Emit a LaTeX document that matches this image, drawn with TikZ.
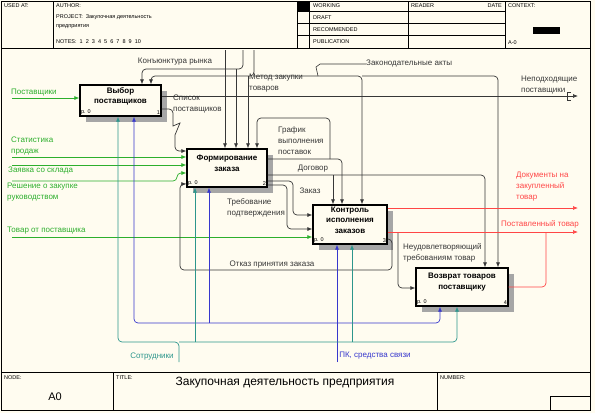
\documentclass[tikz,border=0pt]{standalone}
\usepackage{fontspec}
\setmainfont{Liberation Sans}
\usetikzlibrary{arrows.meta,shadows}
\definecolor{paper}{RGB}{255,252,240}
\definecolor{ink}{RGB}{55,55,55}
\definecolor{ingreen}{RGB}{45,175,45}
\definecolor{mechteal}{RGB}{45,150,140}
\definecolor{mechblue}{RGB}{55,55,205}
\definecolor{outred}{RGB}{255,70,70}

\begin{document}
\begin{tikzpicture}[x=1pt,y=-1pt,
    box/.style={draw,line width=1.3pt,fill=paper,inner sep=0pt,
      drop shadow={shadow xshift=6pt,shadow yshift=-6pt,fill=black!35,opacity=1}},
    ttl/.style={font=\bfseries\fontsize{8}{10.5}\selectfont,align=center,inner sep=0pt},
    pno/.style={font=\fontsize{5.5}{6}\selectfont,inner sep=1.5pt},
    lbl/.style={font=\fontsize{8}{11}\selectfont,align=left,inner sep=0pt},
    hd/.style={font=\fontsize{5.5}{6.5}\selectfont,inner sep=0pt,anchor=west},
    arr/.style={line width=0.7pt,rounded corners=4pt,-{Latex[length=5pt,width=4pt]}},
    seg/.style={line width=0.7pt,rounded corners=4pt}]

  \fill[paper] (0,0) rectangle (595,413);
  \useasboundingbox (0,0) rectangle (595,413);

  % frame, header and footer
  \draw[line width=0.8pt] (1,1) rectangle (590,410);
  \draw[line width=0.6pt] (1,48) -- (590,48) (53,1) -- (53,48)
    (297,1) -- (297,48) (309,1) -- (309,48) (408,1) -- (408,48) (505,1) -- (505,48)
    (297,11) -- (505,11) (297,23) -- (505,23) (297,35) -- (505,35);
  \fill (297,1) rectangle (309,11);
  \fill (533,27) rectangle (560,34);
  \draw[line width=0.6pt] (1,372) -- (590,372) (113,372) -- (113,410)
    (437,372) -- (437,410) (550,396) rectangle (590,410);

  \node[hd] (usedat) at (4,6) {USED AT:};
  \node[hd] (author) at (56,6) {AUTHOR:};
  \node[hd] (project) at (56,17) {PROJECT:\ \ Закупочная деятельность};
  \node[hd] (project2) at (56,27) {предприятия};
  \node[hd] (notes) at (56,42) {NOTES:\ \ 1\ \ 2\ \ 3\ \ 4\ \ 5\ \ 6\ \ 7\ \ 8\ \ 9\ \ 10};
  \node[hd] (working) at (313,6) {WORKING};
  \node[hd] (draft) at (313,18) {DRAFT};
  \node[hd] (recom) at (313,30) {RECOMMENDED};
  \node[hd] (public) at (313,42) {PUBLICATION};
  \node[hd] (reader) at (411,6) {READER};
  \node[hd,anchor=east] (date) at (502,6) {DATE};
  \node[hd] (context) at (508,6) {CONTEXT:};
  \node[hd] (ctxnode) at (508,43) {A-0};
  \node[hd] (nodelbl) at (4,378) {NODE:};
  \node[font=\fontsize{11}{12}\selectfont,inner sep=0pt] (nodeno) at (55,397) {A0};
  \node[hd] (titlelbl) at (116,378) {TITLE:};
  \node[font=\fontsize{12}{13}\selectfont,inner sep=0pt] (title) at (285,383) {Закупочная деятельность предприятия};
  \node[hd] (numlbl) at (440,378) {NUMBER:};

  % activity boxes
  \node[box,minimum width=81pt,minimum height=31pt] (b1) at (120.5,100.5) {};
  \node[box,minimum width=80pt,minimum height=38pt] (b2) at (227,168) {};
  \node[box,minimum width=74pt,minimum height=39pt] (b3) at (350,224.5) {};
  \node[box,minimum width=92pt,minimum height=38pt] (b4) at (462,287) {};
  \node[ttl] (t1) at ([yshift=4pt]b1.center) {Выбор\\поставщиков};
  \node[ttl] (t2) at ([yshift=4.5pt]b2.center) {Формирование\\заказа};
  \node[ttl] (t3) at ([yshift=4.5pt]b3.center) {Контроль\\исполнения\\заказов};
  \node[ttl] (t4) at ([yshift=5pt]b4.center) {Возврат товаров\\поставщику};
  \node[pno,anchor=south west] (p1) at (b1.south west) {р. 0};
  \node[pno,anchor=south east] (n1) at (b1.south east) {1};
  \node[pno,anchor=south west] (p2) at (b2.south west) {р. 0};
  \node[pno,anchor=south east] (n2) at (b2.south east) {2};
  \node[pno,anchor=south west] (p3) at (b3.south west) {р. 0};
  \node[pno,anchor=south east] (n3) at (b3.south east) {3};
  \node[pno,anchor=south west] (p4) at (b4.south west) {р. 0};
  \node[pno,anchor=south east] (n4) at (b4.south east) {4};

  % inputs
  \begin{scope}[ingreen]
    \coordinate (i1) at (12,98);
    \coordinate (i2) at (12,157);
    \coordinate (i3) at (12,165);
    \coordinate (i4) at (12,181);
    \coordinate (i5) at (12,237);
    \draw[arr] (i1) -- (i1 -| b1.west);
    \draw[arr] (i2) -- (i2 -| b2.west);
    \draw[arr] (i3) -- (i3 -| b2.west);
    \draw[arr] (i4) -| (177,173) -- (b2.west |- 0,173);
    \draw[arr] (i5) -- (i5 -| b3.west);
    \node[lbl,anchor=south west] (li1) at (11,96) {Поставщики};
    \node[lbl,anchor=south west] (li2) at (11,155) {Статистика\\продаж};
    \node[lbl,anchor=north west] (li3) at (8,167) {Заявка со склада};
    \node[lbl,anchor=north west] (li4) at (7,183) {Решение о закупке\\руководством};
    \node[lbl,anchor=south west] (li5) at (7,234) {Товар от поставщика};
  \end{scope}

  % controls and internal links
  \begin{scope}[ink]
    \coordinate (c1) at (243,50);
    \coordinate (c2) at (225,50);
    \coordinate (c3) at (254,50);
    \draw[arr] (c1) |- (142,69) -- (142,0 |- b1.north);
    \draw[arr] (236,69) -- (236,0 |- b2.north);
    \draw[arr] (c2) -- (c2 |- b2.north);
    \draw[arr] (c3) |- (151,76) -- (151,0 |- b1.north);
    \draw[arr] (248,76) -- (248,0 |- b2.north);
    \draw[arr] (254,76) -| (362,0 |- b3.north);
    \draw[arr] (362,76) -| (498,0 |- b4.north);
    \draw[arr] (b2.east |- 0,159) -| (342,0 |- b3.north);
    \draw[arr] (330,159) |- (257,118) -- (257,0 |- b2.north);
    \draw[arr] (b2.east |- 0,175) -| (485,0 |- b4.north);
    \draw[arr] (333,175) -- (333,0 |- b3.north);
    \draw[arr] (b2.east |- 0,181) -| (293,215) -- (b3.west |- 0,215);
    \draw[arr] (b2.east |- 0,185) -| (287,229) -- (b3.west |- 0,229);
    \draw[arr] (b3.east |- 0,239) -| (392,270) -| (180,184) -- (b2.west |- 0,184);
    \draw[arr] (b1.east |- 0,109) -- (173,109)
      {[sharp corners] -- (173,126) -- (180,123) -- (175,135)} -- (175,151) -- (b2.west |- 0,151);
    \coordinate (eNep) at (578,96);
    \draw[arr] (b1.east |- 0,96) -- (eNep);
    \draw[line width=0.6pt] (571,92) -| (567,100) -- (571,100);
    \draw[arr] (398,232) |- (b4.west |- 0,288);

    \node[lbl] (lc1) at (175,62) {Конъюнктура рынка};
    \node[lbl,anchor=north west] (lc2) at (249,74) {Метод закупки\\товаров};
    \node[lbl,anchor=west] (lc3) at (366,64) {Законодательные акты};
    \draw[line width=0.6pt] (lc3.west) -- (320,64) -- (316,67) -- (318,76);
    \node[lbl,anchor=north west] (lo1) at (173,95) {Список\\поставщиков};
    \node[lbl,anchor=south west] (lo2) at (521,94) {Неподходящие\\поставщики};
    \node[lbl,anchor=north west] (lo3) at (278,126) {График\\выполнения\\поставок};
    \node[lbl] (lo4) at (313,169) {Договор};
    \node[lbl] (lo5) at (310,191) {Заказ};
    \node[lbl,anchor=north west] (lo6) at (227,198) {Требование\\подтверждения};
    \node[lbl] (lo7) at (272,265) {Отказ принятия заказа};
    \node[lbl,anchor=north west] (lo8) at (403,243) {Неудовлетворяющий\\требованиям товар};
  \end{scope}

  % outputs
  \begin{scope}[outred]
    \coordinate (o1) at (578,208);
    \coordinate (o2) at (578,232);
    \draw[arr] (b3.east |- 0,208) -- (o1);
    \draw[arr] (b3.east |- 0,232) -- (o2);
    \draw[seg] (b4.east |- 0,287) -| (546,232);
    \node[lbl,anchor=north west] (lr1) at (516,172) {Документы на\\закупленный\\товар};
    \node[lbl] (lr2) at (540,224) {Поставленный товар};
  \end{scope}

  % mechanisms
  \begin{scope}[mechblue]
    \coordinate (m1) at (337,362);
    \draw[arr] (m1) -- (m1 |- b3.south);
    \draw[arr] (337,323) -| (134,0 |- b1.south);
    \draw[arr] (209,323) -- (209,0 |- b2.south);
    \draw[arr] (337,323) -| (440,0 |- b4.south);
    \node[lbl] (lm1) at (375,356) {ПК, средства связи};
  \end{scope}
  \begin{scope}[mechteal]
    \coordinate (m2) at (179,362);
    \draw[arr] (m2) |- (118,342) -- (118,0 |- b1.south);
    \draw[arr] (179,342) -| (457,0 |- b4.south);
    \draw[arr] (195,342) -- (195,0 |- b2.south);
    \draw[arr] (352,342) -- (352,0 |- b3.south);
    \node[lbl] (lm2) at (152,357) {Сотрудники};
  \end{scope}
\end{tikzpicture}
\end{document}
